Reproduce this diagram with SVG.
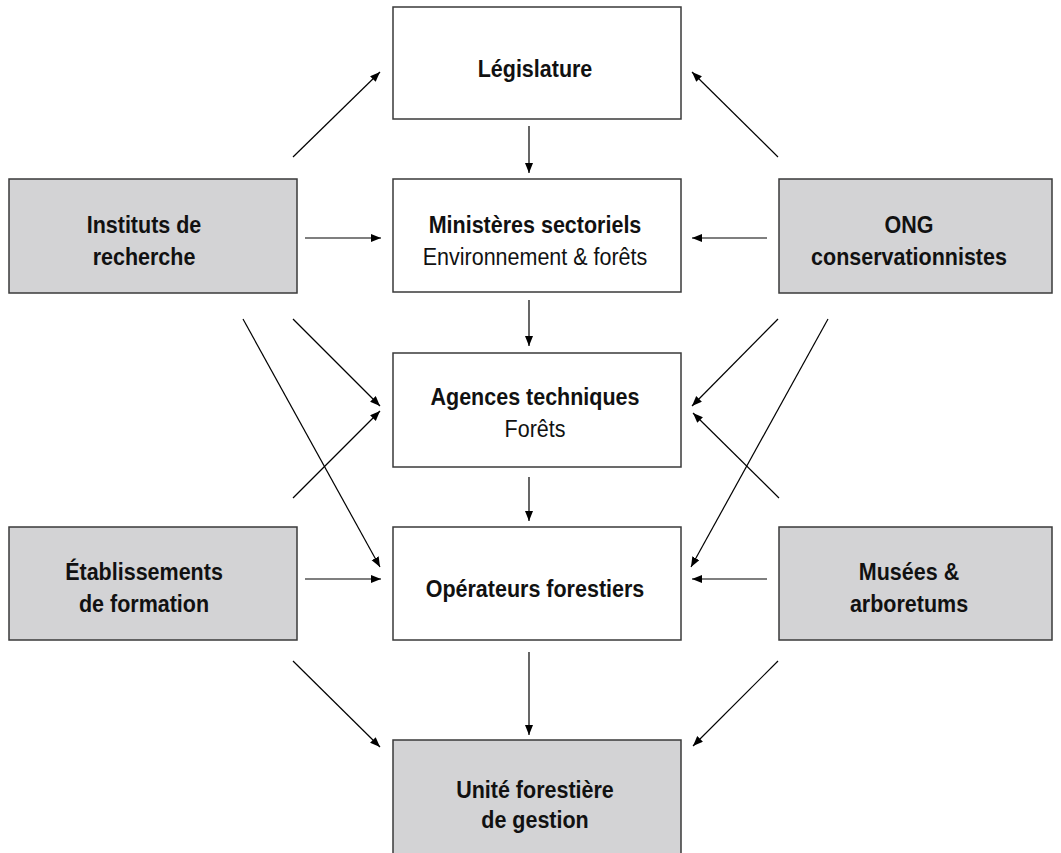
<svg xmlns="http://www.w3.org/2000/svg" width="1061" height="853" viewBox="0 0 1061 853">
<defs>
<marker id="ah" markerUnits="userSpaceOnUse" markerWidth="12" markerHeight="10" refX="10" refY="4" orient="auto">
<path d="M0,0 L10,4 L0,8 Z" fill="#000"/>
</marker>
<style>
.box{stroke:#3a3a3a;stroke-width:1.5}
.w{fill:#fff}
.g{fill:#d3d3d5}
text{font-family:"Liberation Sans",Arial,sans-serif;font-size:21.5px;fill:#111;text-anchor:middle}
.b{font-weight:bold}
.c line{stroke:#000;stroke-width:1.2;marker-end:url(#ah)}
</style>
</defs>
<rect width="1061" height="853" fill="#fff"/>
<g id="legislature"><rect class="box w" x="393" y="7" width="288" height="112"/><text class="b" transform="translate(535,77) scale(1,1.15)">Législature</text></g>
<g id="ministeres"><rect class="box w" x="393" y="179" width="288" height="113"/><text class="b" transform="translate(535,233) scale(1,1.15)">Ministères sectoriels</text><text transform="translate(535,265) scale(1,1.15)">Environnement &amp; forêts</text></g>
<g id="agences"><rect class="box w" x="393" y="353" width="288" height="114"/><text class="b" transform="translate(535,405) scale(1,1.15)">Agences techniques</text><text transform="translate(535,437) scale(1,1.15)">Forêts</text></g>
<g id="operateurs"><rect class="box w" x="393" y="527" width="288" height="113"/><text class="b" transform="translate(535,597) scale(1,1.15)">Opérateurs forestiers</text></g>
<g id="unite"><rect class="box g" x="393" y="740" width="288" height="120"/><text class="b" transform="translate(535,798) scale(1,1.15)">Unité forestière</text><text class="b" transform="translate(535,828) scale(1,1.15)">de gestion</text></g>
<g id="instituts"><rect class="box g" x="9" y="179" width="288" height="114"/><text class="b" transform="translate(144,233) scale(1,1.15)">Instituts de</text><text class="b" transform="translate(144,265) scale(1,1.15)">recherche</text></g>
<g id="etablissements"><rect class="box g" x="9" y="527" width="288" height="113"/><text class="b" transform="translate(144,580) scale(1,1.15)">Établissements</text><text class="b" transform="translate(144,612) scale(1,1.15)">de formation</text></g>
<g id="ong"><rect class="box g" x="779" y="179" width="273" height="114"/><text class="b" transform="translate(909,233) scale(1,1.15)">ONG</text><text class="b" transform="translate(909,265) scale(1,1.15)">conservationnistes</text></g>
<g id="musees"><rect class="box g" x="779" y="527" width="273" height="113"/><text class="b" transform="translate(909,580) scale(1,1.15)">Musées &amp;</text><text class="b" transform="translate(909,612) scale(1,1.15)">arboretums</text></g>
<g id="connectors" class="c">
<line x1="293" y1="157" x2="380" y2="72"/>
<line x1="778" y1="157" x2="692" y2="72"/>
<line x1="529" y1="126" x2="529" y2="173"/>
<line x1="305" y1="238" x2="381" y2="238"/>
<line x1="767" y1="238" x2="692" y2="238"/>
<line x1="529" y1="300" x2="529" y2="346"/>
<line x1="293" y1="319" x2="380" y2="406"/>
<line x1="243" y1="319" x2="380" y2="567"/>
<line x1="778" y1="319" x2="692" y2="406"/>
<line x1="828" y1="319" x2="691" y2="567"/>
<line x1="293" y1="498" x2="380" y2="411"/>
<line x1="779" y1="498" x2="693" y2="413"/>
<line x1="529" y1="477" x2="529" y2="521"/>
<line x1="305" y1="579" x2="381" y2="579"/>
<line x1="767" y1="579" x2="692" y2="579"/>
<line x1="529" y1="652" x2="529" y2="735"/>
<line x1="293" y1="661" x2="380" y2="747"/>
<line x1="778" y1="661" x2="693" y2="746"/>
</g>
</svg>
